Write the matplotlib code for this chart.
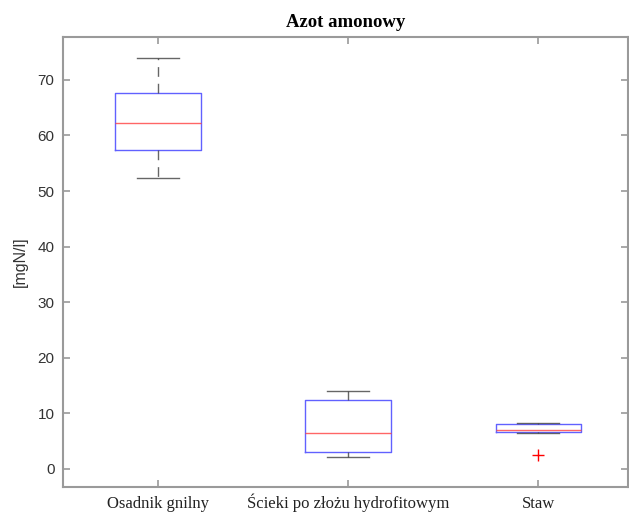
import numpy as np
import matplotlib
matplotlib.use("Agg")
import matplotlib.pyplot as plt

# ===== dane: statystyki pudełek (mgN/l) =====
CATEGORIES = ["Osadnik gnilny", "Ścieki po złożu hydrofitowym", "Staw"]
MEDIANS    = [62.2, 6.5, 7.0]
Q1         = [57.4, 3.0, 6.6]
Q3         = [67.7, 12.4, 8.1]
WHISK_LO   = [52.4, 2.1, 6.5]
WHISK_HI   = [74.0, 14.0, 8.2]
OUTLIERS   = [[], [], [2.5]]
# ===========================

stats = []
for i, name in enumerate(CATEGORIES):
    stats.append(dict(label=name, med=MEDIANS[i], q1=Q1[i], q3=Q3[i],
                      whislo=WHISK_LO[i], whishi=WHISK_HI[i], fliers=OUTLIERS[i]))

SERIF = "Liberation Serif"
SANS = "Liberation Sans"
GRAY = "#9a9a9a"

fig = plt.figure(figsize=(6.29, 5.15), dpi=100)
ax = fig.add_axes([0.1, 0.054, 0.898, 0.874])

ax.bxp(stats, positions=[1, 2, 3], widths=0.45, showfliers=True,
       boxprops=dict(color="#3a3aff", linewidth=1.0, alpha=0.8),
       medianprops=dict(color="#ff4040", linewidth=1.0, alpha=0.8),
       whiskerprops=dict(color="#404040", linewidth=1.0, linestyle=(0, (7, 5)), alpha=0.8),
       capprops=dict(color="#404040", linewidth=1.0, alpha=0.8),
       capwidths=0.22,
       flierprops=dict(marker="+", markeredgecolor="red", markersize=9, markeredgewidth=1.0))

ax.set_xlim(0.5, 3.47)
ax.set_ylim(-3.3, 77.7)
ax.set_yticks([0, 10, 20, 30, 40, 50, 60, 70])
ax.set_xticks([1, 2, 3])
ax.set_xticklabels(CATEGORIES, fontfamily=SERIF, fontsize=12, color="#222222", va="baseline")
for lbl in ax.get_yticklabels():
    lbl.set_fontfamily(SANS)
    lbl.set_fontsize(11)
    lbl.set_color("#333333")

ax.tick_params(direction="in", top=True, right=True, length=5, color=GRAY, width=1.2)
ax.tick_params(axis="x", pad=15)
ax.tick_params(axis="y", pad=6)
for sp in ax.spines.values():
    sp.set_color(GRAY)
    sp.set_linewidth(1.5)

ax.set_ylabel("[mgN/l]", fontfamily=SANS, fontsize=11.5, color="#333333", labelpad=7)
ax.set_title("Azot amonowy", fontfamily=SERIF, fontsize=13.5, fontweight="bold", pad=7)

fig.savefig("out.png", dpi=100)
